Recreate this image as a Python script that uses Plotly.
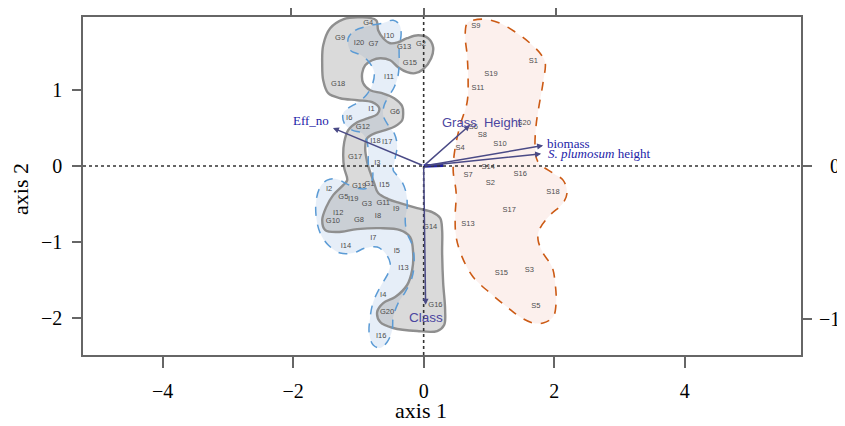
import plotly.graph_objects as go

# ---------------- data (axis units) ----------------
g_labels = ["G1","G2","G3","G4","G5","G6","G7","G8","G9","G10",
            "G11","G12","G13","G14","G15","G16","G17","G18","G19","G20"]
g_x = [-0.83,-0.04,-0.87,-0.85,-1.23,-0.44,-0.77,-0.99,-1.28,-1.39,
       -0.62,-0.93,-0.30,0.10,-0.21,0.18,-1.05,-1.31,-0.99,-0.56]
g_y = [-0.24,1.60,-0.50,1.88,-0.41,0.71,1.60,-0.71,1.68,-0.73,
       -0.49,0.51,1.57,-0.81,1.35,-1.83,0.12,1.08,-0.27,-1.93]

i_labels = ["I1","I2","I3","I4","I5","I6","I7","I8","I9","I10",
            "I11","I12","I13","I14","I15","I16","I17","I18","I19","I20"]
i_x = [-0.80,-1.45,-0.71,-0.62,-0.41,-1.14,-0.77,-0.70,-0.42,-0.53,
       -0.53,-1.31,-0.31,-1.19,-0.60,-0.65,-0.56,-0.74,-1.08,-0.99]
i_y = [0.75,-0.31,0.04,-1.71,-1.12,0.63,-0.95,-0.66,-0.57,1.71,
       1.17,-0.62,-1.35,-1.06,-0.25,-2.24,0.31,0.33,-0.44,1.62]

s_labels = ["S1","S2","S3","S4","S5","S6","S7","S8","S9","S10",
            "S11","S13","S14","S15","S16","S17","S18","S19","S20"]
s_x = [1.68,1.02,1.62,0.56,1.72,0.76,0.68,0.90,0.80,1.17,
       0.83,0.68,0.99,1.19,1.48,1.31,1.98,1.03,1.54]
s_y = [1.38,-0.23,-1.37,0.23,-1.85,0.51,-0.12,0.41,1.84,0.29,
       1.03,-0.77,-0.02,-1.41,-0.11,-0.58,-0.35,1.21,0.56]

# hull outlines (axis units)
gray_hull_x = [-1.233,-1.432,-1.539,-1.554,-1.539,-1.462,-1.279,-1.018,-0.789,-0.681,
               -0.712,-0.850,-1.018,-1.156,-1.217,-1.233,-1.217,-1.171,-1.233,-1.386,
               -1.493,-1.554,-1.508,-1.325,-1.018,-0.666,-0.360,-0.207,-0.161,-0.176,
               -0.253,-0.436,-0.620,-0.712,-0.666,-0.467,-0.100,0.207,0.314,0.329,
               0.299,0.283,0.283,0.253,0.130,-0.100,-0.360,-0.544,-0.697,-0.758,
               -0.819,-0.865,-0.896,-0.865,-0.743,-0.590,-0.436,-0.329,-0.314,-0.329,
               -0.452,-0.636,-0.819,-0.926,-0.942,-0.896,-0.789,-0.666,-0.513,-0.391,
               -0.253,-0.130,-0.008,0.115,0.145,0.069,-0.084,-0.253,-0.391,-0.513,
               -0.620,-0.697,-0.727,-0.959]
gray_hull_y = [1.934,1.816,1.592,1.328,1.130,0.959,0.893,0.867,0.841,0.762,
               0.682,0.630,0.577,0.472,0.314,0.142,-0.029,-0.187,-0.253,-0.385,
               -0.543,-0.714,-0.846,-0.872,-0.833,-0.820,-0.846,-0.938,-1.149,-1.373,
               -1.570,-1.729,-1.808,-1.926,-2.058,-2.137,-2.177,-2.177,-2.097,-1.900,
               -1.544,-1.149,-0.846,-0.688,-0.609,-0.556,-0.490,-0.437,-0.358,-0.227,
               -0.082,0.050,0.235,0.366,0.432,0.472,0.524,0.603,0.696,0.788,
               0.893,0.959,0.999,1.091,1.223,1.328,1.394,1.420,1.394,1.302,
               1.236,1.223,1.275,1.420,1.565,1.684,1.723,1.684,1.631,1.618,
               1.684,1.789,1.921,1.960]

blue_hull_x = [-1.156,-1.049,-0.865,-0.636,-0.467,-0.375,-0.345,-0.375,-0.375,-0.391,
               -0.452,-0.544,-0.605,-0.620,-0.544,-0.452,-0.406,-0.436,-0.467,-0.436,
               -0.329,-0.268,-0.253,-0.283,-0.253,-0.176,-0.145,-0.176,-0.283,-0.391,
               -0.467,-0.482,-0.559,-0.666,-0.773,-0.835,-0.819,-0.773,-0.666,-0.544,
               -0.513,-0.590,-0.712,-0.896,-1.080,-1.279,-1.462,-1.585,-1.646,-1.646,
               -1.585,-1.478,-1.325,-1.171,-1.018,-0.865,-0.789,-0.789,-0.835,-0.850,
               -0.865,-0.942,-1.095,-1.217,-1.233,-1.156,-1.003,-0.881,-0.789,-0.758,
               -0.835,-0.957,-1.125]
blue_hull_y = [1.684,1.789,1.842,1.881,1.921,1.868,1.750,1.552,1.368,1.196,
               1.038,0.906,0.801,0.669,0.538,0.432,0.274,0.103,-0.055,-0.095,
               -0.213,-0.358,-0.543,-0.714,-0.886,-1.043,-1.241,-1.465,-1.663,-1.808,
               -1.992,-2.163,-2.321,-2.400,-2.361,-2.203,-1.992,-1.795,-1.597,-1.413,
               -1.281,-1.149,-1.070,-1.083,-1.149,-1.149,-1.043,-0.886,-0.675,-0.451,
               -0.279,-0.187,-0.174,-0.240,-0.293,-0.293,-0.187,-0.055,-0.029,0.142,
               0.314,0.432,0.472,0.564,0.696,0.762,0.841,0.933,1.065,1.236,
               1.368,1.460,1.526]

orange_hull_x = [0.666,0.758,0.942,1.172,1.432,1.631,1.784,1.861,1.830,1.769,
                 1.723,1.708,1.753,1.983,2.136,2.197,2.136,1.937,1.769,1.753,
                 1.830,1.968,2.014,2.029,1.983,1.830,1.677,1.478,1.279,1.018,
                 0.758,0.590,0.498,0.482,0.498,0.452,0.482,0.559,0.666,0.681,
                 0.666,0.636]
orange_hull_y = [1.881,1.921,1.934,1.881,1.750,1.618,1.486,1.368,1.104,0.801,
                 0.538,0.235,0.050,-0.095,-0.187,-0.345,-0.490,-0.648,-0.846,-0.977,
                 -1.149,-1.333,-1.544,-1.808,-1.992,-2.071,-2.071,-1.992,-1.860,-1.676,
                 -1.465,-1.202,-0.938,-0.675,-0.358,-0.055,0.235,0.538,0.841,1.157,
                 1.460,1.723]

# variable arrows (tips) and their labels
arrow_names = ["Eff_no", "Grass Height", "biomass", "S. plumosum height", "Class"]
arrow_x = [-1.39, 0.71, 1.83, 1.80, 0.03]
arrow_y = [0.50, 0.54, 0.27, 0.16, -1.83]
short_vec_x = [0.0, 0.30]
short_vec_y = [0.0, 0.01]

# ---------------- figure ----------------
X_RANGE = [-5.219, 5.781]
Y_RANGE = [-2.493, 1.964]
TOP_SCALE = 2.03
RIGHT_SCALE = 2.018

SERIF = "Liberation Serif, Times New Roman, serif"
SANS = "Liberation Sans Narrow, Arial Narrow, Liberation Sans, Arial, sans-serif"

fig = go.Figure()

def closed(a):
    return list(a) + [a[0]]

# blue hull fill
fig.add_trace(go.Scatter(x=closed(blue_hull_x), y=closed(blue_hull_y), mode="lines",
                         fill="toself", fillcolor="rgba(200,218,240,0.45)",
                         line=dict(width=0, shape="spline", smoothing=1.0),
                         hoverinfo="skip", showlegend=False))
# orange hull
fig.add_trace(go.Scatter(x=closed(orange_hull_x), y=closed(orange_hull_y), mode="lines",
                         fill="toself", fillcolor="rgba(248,222,215,0.45)",
                         line=dict(color="#cc5a14", width=1.6, dash="dash",
                                   shape="spline", smoothing=1.0),
                         hoverinfo="skip", showlegend=False))
# gray hull
fig.add_trace(go.Scatter(x=closed(gray_hull_x), y=closed(gray_hull_y), mode="lines",
                         fill="toself", fillcolor="rgba(150,150,150,0.35)",
                         line=dict(color="#8f8f8f", width=2.4, shape="spline", smoothing=1.0),
                         hoverinfo="skip", showlegend=False))
# blue hull dashed outline
fig.add_trace(go.Scatter(x=closed(blue_hull_x), y=closed(blue_hull_y), mode="lines",
                         line=dict(color="#5b9bd5", width=1.5, dash="dash",
                                   shape="spline", smoothing=1.0),
                         hoverinfo="skip", showlegend=False))

# zero reference lines
fig.add_shape(type="line", xref="x", yref="paper", x0=0, x1=0, y0=0, y1=1,
              line=dict(color="#333333", width=1.6, dash="dot"))
fig.add_shape(type="line", xref="paper", yref="y", x0=0, x1=1, y0=0, y1=0,
              line=dict(color="#333333", width=1.6, dash="dot"))

# point labels
for labs, xs, ys in [(g_labels, g_x, g_y), (i_labels, i_x, i_y), (s_labels, s_x, s_y)]:
    fig.add_trace(go.Scatter(x=xs, y=ys, mode="text", text=labs,
                             textfont=dict(family=SANS, size=7.5, color="#4d4d4d"),
                             hoverinfo="skip", showlegend=False))

# short thick vector
fig.add_trace(go.Scatter(x=short_vec_x, y=short_vec_y, mode="lines",
                         line=dict(color="#1f1fa0", width=3.5),
                         hoverinfo="skip", showlegend=False))

# invisible trace for the secondary axes
fig.add_trace(go.Scatter(x=[0], y=[0], xaxis="x2", yaxis="y2", mode="markers",
                         marker=dict(opacity=0), hoverinfo="skip", showlegend=False))

annotations = []
for name, ax_, ay_ in zip(arrow_names, arrow_x, arrow_y):
    annotations.append(dict(x=ax_, y=ay_, ax=0, ay=0, xref="x", yref="y",
                            axref="x", ayref="y", text="", showarrow=True,
                            arrowhead=2, arrowsize=0.8, arrowwidth=1.5,
                            arrowcolor="#4a4a86", standoff=0, startstandoff=0))

LBL_BLUE = "#2323a8"
LBL_PURP = "#4b46a0"
annotations.append(dict(x=arrow_x[0], y=arrow_y[0], xref="x", yref="y", text="Eff_no",
                        showarrow=False, xanchor="right", yanchor="bottom", xshift=-2, yshift=-2,
                        font=dict(family=SERIF, size=13, color=LBL_BLUE)))
annotations.append(dict(x=arrow_x[1], y=arrow_y[1], xref="x", yref="y", text="Grass  Height",
                        showarrow=False, xanchor="center", yanchor="middle", xshift=12, yshift=2,
                        font=dict(family=SANS, size=13, color=LBL_PURP)))
annotations.append(dict(x=arrow_x[2], y=arrow_y[2], xref="x", yref="y", text="biomass",
                        showarrow=False, xanchor="left", yanchor="middle", xshift=2, yshift=2,
                        font=dict(family=SERIF, size=13, color=LBL_BLUE)))
annotations.append(dict(x=arrow_x[3], y=arrow_y[3], xref="x", yref="y",
                        text="<i>S. plumosum</i> height",
                        showarrow=False, xanchor="left", yanchor="middle", xshift=5, yshift=0,
                        font=dict(family=SERIF, size=13, color=LBL_BLUE)))
annotations.append(dict(x=arrow_x[4], y=arrow_y[4], xref="x", yref="y", text="Class",
                        showarrow=False, xanchor="center", yanchor="top", xshift=0, yshift=-3,
                        font=dict(family=SANS, size=13.5, color=LBL_PURP)))

# right-axis labels (partly cut at the page edge like the original)
for v, t in [(0, "0"), (-1, "\u22121")]:
    annotations.append(dict(x=1.0571, y=v, xref="paper", yref="y2", text=t,
                            showarrow=False, xanchor="right", yanchor="middle",
                            font=dict(family=SERIF, size=20, color="#000000")))

# axis titles
annotations.append(dict(x=0.471, y=-0.163, xref="paper", yref="paper", text="axis 1",
                        showarrow=False, xanchor="center", yanchor="middle",
                        font=dict(family=SERIF, size=22, color="#000000")))
annotations.append(dict(x=-0.087, y=0.49, xref="paper", yref="paper", text="axis 2",
                        textangle=-90, showarrow=False, xanchor="center", yanchor="middle",
                        font=dict(family=SERIF, size=22, color="#000000")))

common = dict(showgrid=False, zeroline=False, automargin=False)
fig.update_layout(
    width=837, height=418,
    margin=dict(l=75, r=44, t=9, b=71, autoexpand=False),
    paper_bgcolor="white", plot_bgcolor="white",
    showlegend=False,
    annotations=annotations,
    xaxis=dict(range=X_RANGE, tickvals=[-4, -2, 0, 2, 4],
               ticktext=["\u22124", "\u22122", "0", "2", "4"],
               showline=True, mirror=True,
               linecolor="#666666", linewidth=1.5, ticks="outside", ticklen=11,
               tickwidth=1.5, tickcolor="#666666",
               tickfont=dict(family=SERIF, size=20, color="#000000"),
               ticklabelstandoff=6, **common),
    yaxis=dict(range=Y_RANGE, tickvals=[-2, -1, 0, 1],
               ticktext=["\u22122", "\u22121", "0", "1"],
               showline=True, mirror=True,
               linecolor="#666666", linewidth=1.5, ticks="outside", ticklen=9,
               tickwidth=1.5, tickcolor="#666666",
               tickfont=dict(family=SERIF, size=20, color="#000000"),
               ticklabelstandoff=6, **common),
    xaxis2=dict(overlaying="x", side="top", anchor="y",
                range=[X_RANGE[0] / TOP_SCALE, X_RANGE[1] / TOP_SCALE],
                tickvals=[-1, 0, 1], showticklabels=False,
                showline=False, ticks="outside", ticklen=10,
                tickwidth=1.5, tickcolor="#666666", **common),
    yaxis2=dict(overlaying="y", side="right", anchor="x",
                range=[Y_RANGE[0] / RIGHT_SCALE, Y_RANGE[1] / RIGHT_SCALE],
                tickvals=[-1, 0], showticklabels=False,
                showline=False, ticks="outside", ticklen=10,
                tickwidth=1.5, tickcolor="#666666", **common),
)

fig.write_html("out.html")
